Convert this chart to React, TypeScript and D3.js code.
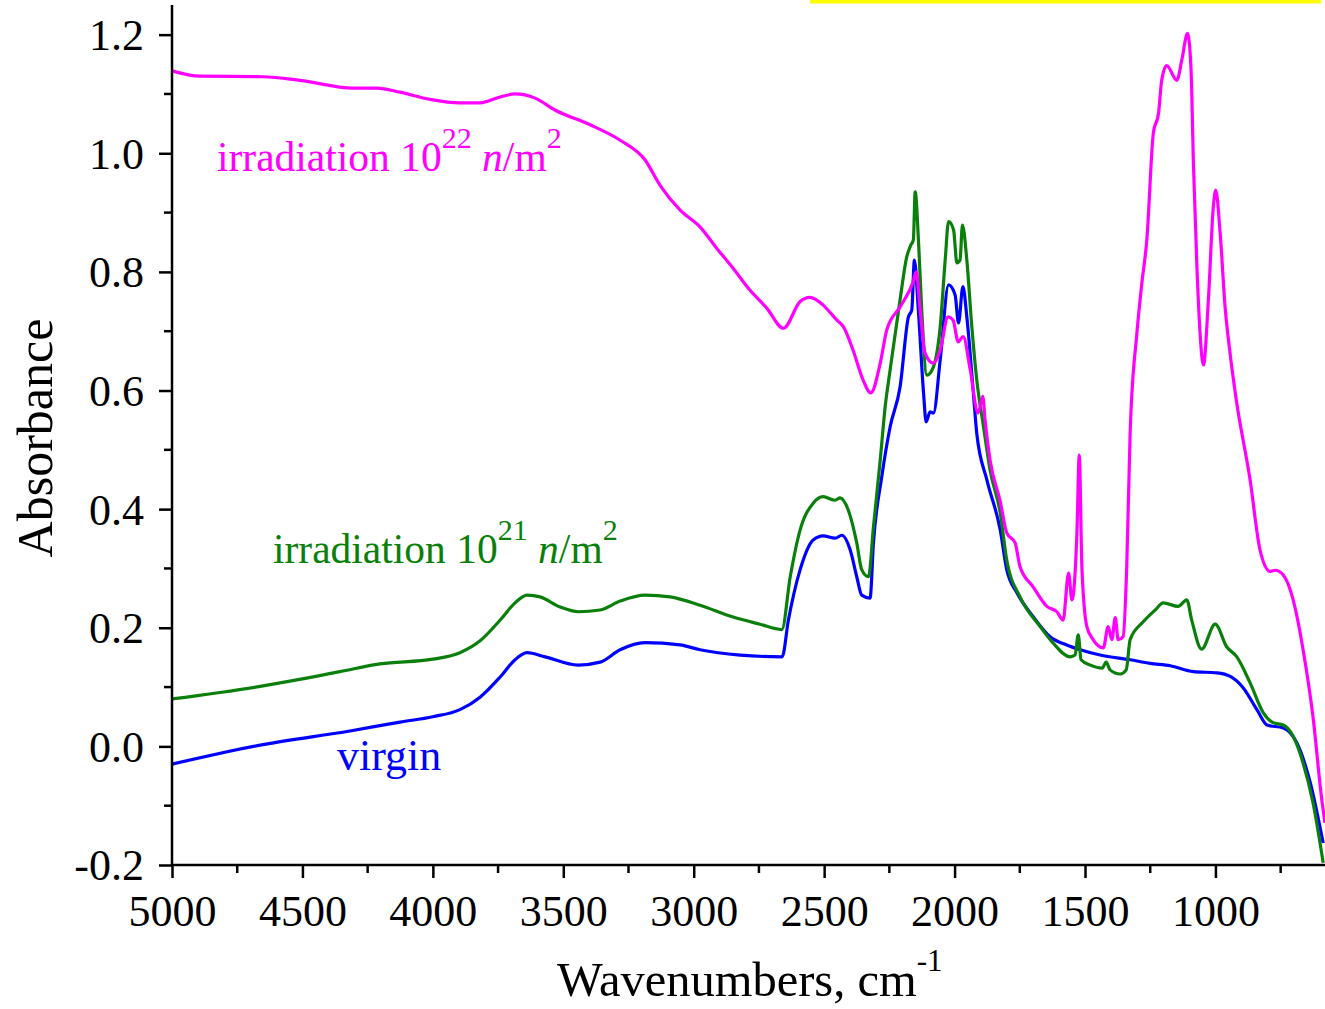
import React, { useEffect, useRef } from "react"
import * as d3 from "d3"

const WIDTH = 1325
const HEIGHT = 1009
const FONT = "'Liberation Serif', 'Times New Roman', serif"

// wavenumber (cm-1) / absorbance
const IRR22_WN = [5000, 4893, 4651, 4509, 4306, 4214, 4126, 4011, 3896, 3819, 3742, 3685, 3608, 3532, 3397, 3282, 3187, 3129, 3052, 2976, 2912, 2849, 2784, 2720, 2656, 2592, 2554, 2504, 2452, 2427, 2389, 2351, 2321, 2285, 2260, 2209, 2159, 2147, 2132, 2113, 2082, 2055, 2025, 2006, 1986, 1967, 1940, 1910, 1892, 1883, 1864, 1825, 1800, 1768, 1749, 1699, 1646, 1608, 1584, 1563, 1550, 1531, 1522, 1512, 1493, 1469, 1430, 1411, 1397, 1384, 1373, 1354, 1340, 1327, 1301, 1282, 1263, 1238, 1218, 1206, 1187, 1148, 1129, 1107, 1094, 1084, 1071, 1059, 1046, 1027, 1008, 999, 982, 963, 944, 921, 867, 829, 790, 771, 740, 702, 664, 626, 592, 580]
const IRR22_ABS = [1.139, 1.130, 1.129, 1.123, 1.110, 1.110, 1.103, 1.091, 1.085, 1.085, 1.095, 1.100, 1.093, 1.073, 1.048, 1.022, 0.989, 0.946, 0.904, 0.876, 0.840, 0.806, 0.769, 0.739, 0.705, 0.750, 0.757, 0.744, 0.719, 0.708, 0.668, 0.618, 0.596, 0.646, 0.702, 0.741, 0.783, 0.800, 0.736, 0.663, 0.646, 0.668, 0.724, 0.719, 0.682, 0.691, 0.635, 0.562, 0.590, 0.550, 0.483, 0.413, 0.360, 0.343, 0.303, 0.269, 0.236, 0.227, 0.213, 0.292, 0.247, 0.360, 0.491, 0.303, 0.202, 0.180, 0.166, 0.202, 0.180, 0.217, 0.180, 0.185, 0.303, 0.528, 0.697, 0.781, 0.854, 1.034, 1.068, 1.123, 1.148, 1.123, 1.157, 1.202, 1.146, 0.977, 0.809, 0.697, 0.643, 0.753, 0.910, 0.938, 0.866, 0.741, 0.663, 0.587, 0.449, 0.331, 0.295, 0.297, 0.289, 0.247, 0.163, 0.050, -0.091, -0.129]

const IRR21_WN = [5000, 4651, 4356, 4203, 4000, 3896, 3819, 3742, 3685, 3639, 3589, 3512, 3443, 3359, 3282, 3187, 3091, 2976, 2849, 2746, 2662, 2630, 2592, 2542, 2504, 2458, 2439, 2408, 2375, 2356, 2330, 2311, 2285, 2266, 2247, 2209, 2183, 2168, 2158, 2151, 2138, 2126, 2106, 2081, 2055, 2036, 2023, 2004, 1991, 1979, 1970, 1953, 1934, 1915, 1889, 1864, 1825, 1800, 1749, 1672, 1622, 1557, 1538, 1526, 1515, 1480, 1434, 1419, 1404, 1365, 1342, 1327, 1277, 1231, 1200, 1143, 1110, 1091, 1053, 1001, 957, 918, 867, 817, 779, 740, 702, 664, 626, 587]
const IRR21_ABS = [0.080, 0.102, 0.126, 0.139, 0.147, 0.158, 0.178, 0.213, 0.242, 0.255, 0.252, 0.235, 0.227, 0.230, 0.245, 0.255, 0.252, 0.238, 0.218, 0.206, 0.197, 0.286, 0.365, 0.410, 0.421, 0.415, 0.419, 0.399, 0.343, 0.298, 0.286, 0.370, 0.483, 0.573, 0.635, 0.753, 0.826, 0.845, 0.854, 0.935, 0.849, 0.736, 0.626, 0.640, 0.708, 0.820, 0.885, 0.871, 0.815, 0.820, 0.879, 0.820, 0.708, 0.618, 0.539, 0.466, 0.394, 0.314, 0.252, 0.202, 0.174, 0.151, 0.154, 0.188, 0.146, 0.137, 0.132, 0.142, 0.129, 0.122, 0.129, 0.180, 0.210, 0.230, 0.242, 0.236, 0.247, 0.213, 0.164, 0.206, 0.168, 0.151, 0.107, 0.057, 0.040, 0.036, 0.017, -0.028, -0.095, -0.196]

const VIRGIN_WN = [5000, 4651, 4318, 4126, 4000, 3896, 3819, 3742, 3685, 3639, 3570, 3443, 3359, 3282, 3187, 3052, 2976, 2822, 2661, 2637, 2592, 2542, 2504, 2458, 2432, 2400, 2375, 2356, 2324, 2311, 2279, 2247, 2209, 2177, 2164, 2154, 2139, 2119, 2109, 2094, 2081, 2055, 2023, 1998, 1985, 1968, 1953, 1928, 1915, 1876, 1825, 1800, 1761, 1699, 1634, 1570, 1518, 1442, 1327, 1250, 1173, 1085, 994, 943, 894, 841, 802, 740, 688, 636, 587]
const VIRGIN_ABS = [-0.030, 0.003, 0.026, 0.041, 0.050, 0.062, 0.083, 0.117, 0.146, 0.158, 0.151, 0.137, 0.142, 0.163, 0.175, 0.171, 0.163, 0.154, 0.151, 0.213, 0.298, 0.348, 0.355, 0.351, 0.356, 0.331, 0.286, 0.255, 0.250, 0.343, 0.455, 0.539, 0.606, 0.724, 0.736, 0.820, 0.736, 0.596, 0.547, 0.564, 0.562, 0.652, 0.778, 0.761, 0.714, 0.775, 0.724, 0.596, 0.528, 0.449, 0.365, 0.298, 0.259, 0.219, 0.185, 0.171, 0.163, 0.154, 0.146, 0.140, 0.136, 0.126, 0.124, 0.118, 0.099, 0.062, 0.036, 0.031, 0.006, -0.062, -0.163]

const X_TICKS = [5000, 4500, 4000, 3500, 3000, 2500, 2000, 1500, 1000]
const X_MINOR = [4750, 4250, 3750, 3250, 2750, 2250, 1750, 1250, 750]
const Y_TICKS = [-0.2, 0, 0.2, 0.4, 0.6, 0.8, 1.0, 1.2]
const Y_MINOR = [-0.1, 0.1, 0.3, 0.5, 0.7, 0.9, 1.1]

const SERIES = [
  { key: "virgin", wn: VIRGIN_WN, abs: VIRGIN_ABS, color: "#0000ff" },
  { key: "irr21", wn: IRR21_WN, abs: IRR21_ABS, color: "#0b7f0b" },
  { key: "irr22", wn: IRR22_WN, abs: IRR22_ABS, color: "#ff00ff" },
]

const M = { left: 172, right: 0, top: 5, bottom: 144 }

// superscripted label: "irradiation 10^exp n/m^2"
function DoseLabel({ x, y, exp, color }: { x: number; y: number; exp: string; color: string }) {
  return (
    <text x={x} y={y} fontSize={41.5} fill={color}>
      irradiation 10<tspan dy={-23} fontSize={30}>{exp}</tspan>
      <tspan dy={23}> </tspan>
      <tspan fontStyle="italic">n</tspan>/m<tspan dy={-23} fontSize={30}>2</tspan>
    </text>
  )
}

export default function App() {
  const xAxisRef = useRef<SVGGElement>(null)
  const yAxisRef = useRef<SVGGElement>(null)

  const x = d3.scaleLinear().domain([5000, 580]).range([M.left, WIDTH - M.right])
  const y = d3.scaleLinear().domain([-0.2, 1.25]).range([HEIGHT - M.bottom, M.top])

  const line = d3
    .line<[number, number]>()
    .x(d => x(d[0]))
    .y(d => y(d[1]))
    .curve(d3.curveMonotoneX)

  useEffect(() => {
    const fmtY = (d: d3.NumberValue) => d3.format(".1f")(d).replace("−", "-")

    const gx = d3.select(xAxisRef.current!)
    gx.selectAll("*").remove()
    gx.call(d3.axisBottom(x).tickValues(X_TICKS).tickSize(13).tickPadding(6).tickFormat(d3.format("d")))
    gx.append("g")
      .selectAll("line")
      .data(X_MINOR)
      .join("line")
      .attr("x1", d => x(d))
      .attr("x2", d => x(d))
      .attr("y1", 0)
      .attr("y2", 8)
      .attr("stroke", "#000")
      .attr("stroke-width", 2.5)

    const gy = d3.select(yAxisRef.current!)
    gy.selectAll("*").remove()
    gy.call(d3.axisLeft(y).tickValues(Y_TICKS).tickSize(13).tickPadding(15).tickFormat(fmtY))
    gy.append("g")
      .selectAll("line")
      .data(Y_MINOR)
      .join("line")
      .attr("x1", 0)
      .attr("x2", -8)
      .attr("y1", d => y(d))
      .attr("y2", d => y(d))
      .attr("stroke", "#000")
      .attr("stroke-width", 2.5)

    for (const g of [gx, gy]) {
      g.select(".domain").remove()
      g.selectAll(".tick line").attr("stroke-width", 2.5)
      g.attr("font-family", FONT)
      g.selectAll("text").attr("font-family", FONT).attr("font-size", 44).attr("fill", "#000")
    }
    gx.selectAll("text").attr("dy", "0.95em")
    gy.selectAll("text").attr("dy", "0.34em")
  }, [])

  const x0 = x.range()[0]
  const x1 = x.range()[1]
  const yb = y(-0.2)

  return (
    <svg
      width={WIDTH}
      height={HEIGHT}
      style={{ position: "absolute", left: 0, top: 0, background: "#fff" }}
      fontFamily={FONT}
    >
      <rect x={810} y={0} width={WIDTH - 810 - 4} height={3.5} fill="#ffff00" />
      {SERIES.map(s => (
        <path
          key={s.key}
          d={line(s.wn.map((w, i) => [w, s.abs[i]] as [number, number])) || ""}
          fill="none"
          stroke={s.color}
          strokeWidth={3.2}
          strokeLinejoin="round"
        />
      ))}
      <g ref={xAxisRef} transform={`translate(0,${yb})`} />
      <g ref={yAxisRef} transform={`translate(${x0},0)`} />
      <line x1={x0} x2={x1} y1={yb} y2={yb} stroke="#000" strokeWidth={2.5} />
      <line x1={x0} x2={x0} y1={M.top} y2={yb} stroke="#000" strokeWidth={2.5} />

      <text transform={`translate(52,${(M.top + yb) / 2 + 3}) rotate(-90)`} textAnchor="middle" fontSize={50}>
        Absorbance
      </text>
      <text x={557} y={996} fontSize={48.5}>
        Wavenumbers, cm
        <tspan dy={-25} fontSize={31}>-1</tspan>
      </text>

      <DoseLabel x={217} y={171} exp="22" color="#ff00ff" />
      <DoseLabel x={273} y={563} exp="21" color="#0b7f0b" />
      <text x={337} y={770} fontSize={44} fill="#0000ff">
        virgin
      </text>
    </svg>
  )
}
